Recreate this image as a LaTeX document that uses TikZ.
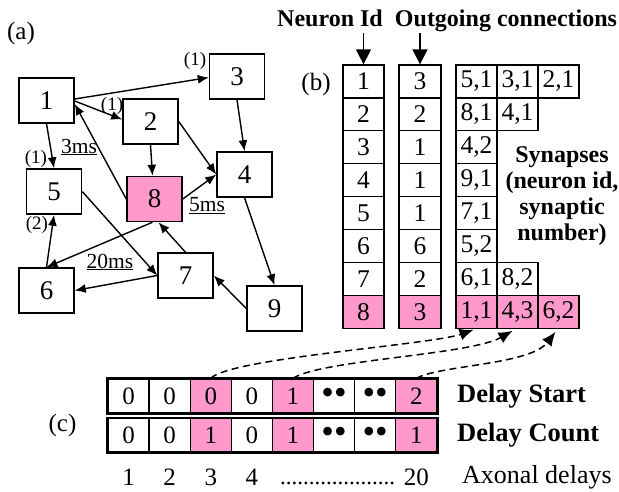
\documentclass[tikz,border=0pt]{standalone}
\usepackage{fontspec}
\setmainfont{Liberation Serif}
\usetikzlibrary{arrows.meta,calc}
\definecolor{pk}{RGB}{255,153,204}
\newcommand{\bdots}{\raisebox{-3pt}{\fontsize{36}{36}\selectfont ••}}
\begin{document}
\begin{tikzpicture}[x=1pt,y=-1pt,
  nbox/.style={draw,line width=1.5pt,minimum width=55pt,minimum height=45pt,inner sep=0pt,font=\fontsize{27}{27}\selectfont},
  edge/.style={line width=1.4pt,-{Latex[length=11pt,width=9pt]}},
  wlab/.style={inner sep=0pt,font=\fontsize{19}{19}\selectfont},
  mslab/.style={inner sep=0pt,font=\fontsize{21.5}{21.5}\selectfont},
  tcell/.style={draw,line width=1.3pt,minimum height=32.9pt,minimum width=41pt,inner sep=0pt,font=\fontsize{25.5}{25.5}\selectfont},
  acell/.style={draw,line width=1.3pt,minimum width=41.1pt,inner sep=0pt,font=\fontsize{25}{25}\selectfont},
  boldlab/.style={inner sep=0pt,font=\fontsize{24}{26}\selectfont\bfseries},
  bigbold/.style={inner sep=0pt,font=\fontsize{26.5}{28}\selectfont\bfseries},
  plainlab/.style={inner sep=0pt,font=\fontsize{25}{26}\selectfont},
  hdarrow/.style={line width=1.4pt,-{Triangle[length=15pt,width=15pt]}},
  dsh/.style={line width=1.5pt,dash pattern=on 7pt off 4.5pt,-{Latex[length=14pt,width=12pt]}}
]
\useasboundingbox (0,0) rectangle (619,491);

% ---------- (a) graph ----------
\node[plainlab] (la) at (21,33) {(a)};
\node[nbox] (n1) at (46.5,100.5) {1};
\node[nbox] (n3) at (237,76.5) {3};
\node[nbox] (n2) at (150.5,121.5) {2};
\node[nbox] (n4) at (244.5,174.5) {4};
\node[nbox] (n5) at (54,191.5) {5};
\node[nbox,fill=pk] (n8) at (154.5,199) {8};
\node[nbox] (n6) at (46.5,290.5) {6};
\node[nbox] (n7) at (185.5,275.5) {7};
\node[nbox] (n9) at (274.5,308.5) {9};

\draw[edge] ($(n1.east)+(0,-1.5)$) -- ($(n3.west)+(0,1)$);
\draw[edge] ($(n1.east)+(0,0.5)$) -- ($(n2.west)+(0,-2)$);
\draw[edge] (n1.south) -- (n5.north);
\draw[edge] (n8.west) -- ($(n1.east)+(0,3.5)$);
\draw[edge] (n3.south) -- (n4.north);
\draw[edge] (n2.east) -- (n4.west);
\draw[edge] (n2.south) -- ($(n8.north)+(-2,0)$);
\draw[edge] (n8.east) -- (n4.west);
\draw[edge] (n4.south) -- (n9.north);
\draw[edge] (n5.east) -- (n7.west);
\draw[edge] ($(n8.south)+(-2,0)$) -- (n6.north);
\draw[edge] (n6.north) -- (n5.south);
\draw[edge] (n7.west) -- (n6.east);
\draw[edge] (n7.north) -- ($(n8.south)+(4,0)$);
\draw[edge] (n9.west) -- (n7.east);

\node[wlab] (w13) at (195,61) {(1)};
\node[wlab] (w12) at (112,106) {(1)};
\node[wlab] (w15) at (36,159) {(1)};
\node[wlab] (w65) at (37,225) {(2)};
\node[mslab] (m3) at (79,147) {\underline{3ms}};
\node[mslab] (m5) at (207,206) {\underline{5ms}};
\node[mslab] (m20) at (110,262) {\underline{20ms}};

% ---------- (b) tables ----------
\node[boldlab,anchor=base] (hid) at (330,26) {Neuron Id};
\node[boldlab,anchor=base] (hoc) at (506,26) {Outgoing connections};
\node[plainlab] (lb) at (316,84) {(b)};

\foreach \r/\o in {1/3,2/2,3/1,4/1,5/1,6/6,7/2}{
  \node[tcell] (a\r) at (363.5,{48.55+32.9*\r}) {\r};
  \node[tcell,minimum width=42pt] (b\r) at (420,{48.55+32.9*\r}) {\o};
}
\node[tcell,fill=pk] (a8) at (363.5,311.75) {8};
\node[tcell,fill=pk,minimum width=42pt] (b8) at (420,311.75) {3};

\coordinate (hA) at (363.5,33);
\coordinate (hB) at (420,33);
\draw[hdarrow] (hA) -- (a1.north);
\draw[hdarrow] (hB) -- (b1.north);

\node[tcell] (s1c1) at (476.5,81.45) {5,1};
\node[tcell] (s1c2) at (517.5,81.45) {3,1};
\node[tcell] (s1c3) at (558.5,81.45) {2,1};
\node[tcell] (s2c1) at (476.5,114.35) {8,1};
\node[tcell] (s2c2) at (517.5,114.35) {4,1};
\node[tcell] (s3c1) at (476.5,147.25) {4,2};
\node[tcell] (s4c1) at (476.5,180.15) {9,1};
\node[tcell] (s5c1) at (476.5,213.05) {7,1};
\node[tcell] (s6c1) at (476.5,245.95) {5,2};
\node[tcell] (s7c1) at (476.5,278.85) {6,1};
\node[tcell] (s7c2) at (517.5,278.85) {8,2};
\node[tcell,fill=pk] (s8c1) at (476.5,311.75) {1,1};
\node[tcell,fill=pk] (s8c2) at (517.5,311.75) {4,3};
\node[tcell,fill=pk] (s8c3) at (558.5,311.75) {6,2};

\node[boldlab,align=center] (syn) at (562,196) {Synapses\\(neuron id,\\synaptic\\number)};

% ---------- (c) delay arrays ----------
\node[plainlab] (lc) at (62.5,425) {(c)};
\foreach \i/\s/\c/\f in {1/0/0/white,2/0/0/white,3/0/1/pk,4/0/0/white,5/1/1/pk,6/\bdots/\bdots/white,7/\bdots/\bdots/white,8/2/1/pk}{
  \node[acell,fill=\f,minimum height=34pt] (ds\i) at ({87.45+41.1*\i},396) {\s};
  \node[acell,fill=\f,minimum height=33.5pt] (dc\i) at ({87.45+41.1*\i},435) {\c};
}
\draw[line width=2.2pt] (ds1.north west) rectangle (ds8.south east);
\draw[line width=2.2pt] (dc1.north west) rectangle (dc8.south east);

\foreach \i in {1,2,3,4}{
  \node[inner sep=0pt,font=\fontsize{25}{25}\selectfont] (ax\i) at ({87.45+41.1*\i},477) {\i};
}
\node[inner sep=0pt,font=\fontsize{23}{23}\selectfont,anchor=base] (axd) at (337.5,484) {....................};
\node[inner sep=0pt,font=\fontsize{25}{25}\selectfont] (ax20) at (416.25,477) {20};

\node[bigbold,anchor=west] (tds) at (457,396) {Delay Start};
\node[bigbold,anchor=west] (tdc) at (457,435) {Delay Count};
\node[inner sep=0pt,font=\fontsize{26}{26}\selectfont,anchor=west] (tax) at (462,477) {Axonal delays};

\draw[dsh] (ds3.north) .. controls (230,358) and (430,345) .. ($(s8c1.south)+(-3,1)$);
\draw[dsh] (ds5.north) .. controls (320,360) and (470,355) .. ($(s8c2.south)+(-5,2)$);
\draw[dsh] (ds8.north) .. controls (440,365) and (530,365) .. ($(s8c3.south)+(-3,3)$);
\end{tikzpicture}
\end{document}
